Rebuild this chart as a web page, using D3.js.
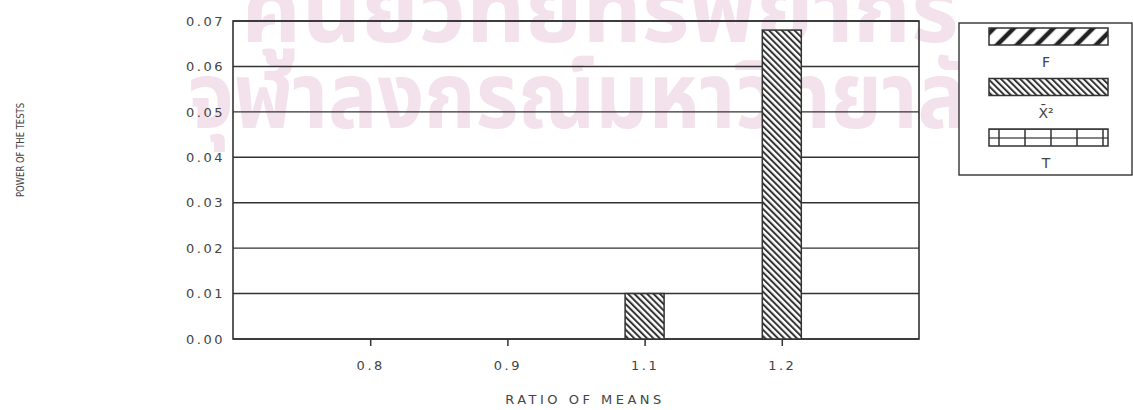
<!DOCTYPE html>
<html>
<head>
<meta charset="utf-8">
<script src="https://cdn.jsdelivr.net/npm/d3@7"></script>
<style>
  body { margin: 0; background: #fff; }
  text { fill: #333; }
</style>
</head>
<body>
<script>
var w = 1133;
var h = 410;

// chart data
var categories = ["0.8", "0.9", "1.1", "1.2"];
var seriesNames = ["F", "X2", "T"];
var fValues = [0, 0, 0, 0];
var chiValues = [0, 0, 0.01, 0.068];
var tValues = [0, 0, 0, 0];
var yTicks = [0, 0.01, 0.02, 0.03, 0.04, 0.05, 0.06, 0.07];

var series = [
    { key: "F", values: fValues, pattern: "url(#pF)", label: "F" },
    { key: "X2", values: chiValues, pattern: "url(#pX)", label: "X\u0304\u00B2" },
    { key: "T", values: tValues, pattern: "url(#pT)", label: "T" }
];

var plot = { left: 233, right: 919, top: 21, bottom: 339 };
var ink = "#333";

var svg = d3.select("body")
            .append("svg")
            .attr("width", w)
            .attr("height", h);

// hatch patterns
var defs = svg.append("defs");

var pF = defs.append("pattern")
    .attr("id", "pF")
    .attr("patternUnits", "userSpaceOnUse")
    .attr("width", 14).attr("height", 14)
    .attr("patternTransform", "rotate(45)");
pF.append("rect").attr("width", 14).attr("height", 14).attr("fill", "#fff");
pF.append("line").attr("x1", 3).attr("y1", 0).attr("x2", 3).attr("y2", 14)
    .attr("stroke", "#222").attr("stroke-width", 4.5);

var pX = defs.append("pattern")
    .attr("id", "pX")
    .attr("patternUnits", "userSpaceOnUse")
    .attr("width", 4.5).attr("height", 4.5)
    .attr("patternTransform", "rotate(-45)");
pX.append("rect").attr("width", 4.5).attr("height", 4.5).attr("fill", "#fff");
pX.append("line").attr("x1", 1).attr("y1", 0).attr("x2", 1).attr("y2", 4.5)
    .attr("stroke", "#333").attr("stroke-width", 2);

var pT = defs.append("pattern")
    .attr("id", "pT")
    .attr("patternUnits", "userSpaceOnUse")
    .attr("x", 994)
    .attr("width", 26).attr("height", 18);
pT.append("rect").attr("width", 26).attr("height", 18).attr("fill", "#fff");
pT.append("line").attr("x1", 0).attr("y1", 0).attr("x2", 26).attr("y2", 0)
    .attr("stroke", ink).attr("stroke-width", 1.5);
pT.append("line").attr("x1", 0).attr("y1", 9).attr("x2", 26).attr("y2", 9)
    .attr("stroke", ink).attr("stroke-width", 1.2);
pT.append("line").attr("x1", 5).attr("y1", 0).attr("x2", 5).attr("y2", 18)
    .attr("stroke", ink).attr("stroke-width", 1.5);

// background watermark
var wm = svg.append("g")
    .style("font-family", "'Noto Sans Thai', 'Noto Sans', 'DejaVu Sans', sans-serif")
    .style("font-size", "92px")
    .style("font-weight", "bold")
    .attr("text-anchor", "middle");
wm.append("text")
  .attr("x", 600).attr("y", 42)
  .style("fill", "#f3e2eb")
  .text("ศูนย์วิทยทรัพยากร");
wm.append("text")
  .attr("x", 603).attr("y", 128)
  .attr("textLength", 830)
  .attr("lengthAdjust", "spacingAndGlyphs")
  .style("fill", "#f3e2eb")
  .text("จุฬาลงกรณ์มหาวิทยาลัย");

// scales
var x0 = d3.scalePoint()
           .domain(categories)
           .range([plot.left, plot.right])
           .padding(1);

var x1 = d3.scaleBand()
           .domain(seriesNames)
           .range([-58.5, 58.5])
           .padding(0);

var yScale = d3.scaleLinear()
               .domain([0, 0.07])
               .range([plot.bottom, plot.top]);

// grid lines
svg.append("g")
   .selectAll("line")
   .data(yTicks)
   .enter()
   .append("line")
   .attr("x1", plot.left)
   .attr("x2", plot.right)
   .attr("y1", function (d) { return yScale(d); })
   .attr("y2", function (d) { return yScale(d); })
   .attr("stroke", ink)
   .attr("stroke-width", 1.4);

// frame
svg.append("rect")
   .attr("x", plot.left)
   .attr("y", plot.top)
   .attr("width", plot.right - plot.left)
   .attr("height", plot.bottom - plot.top)
   .attr("fill", "none")
   .attr("stroke", ink)
   .attr("stroke-width", 1.6);

// bars
var groups = svg.append("g")
   .selectAll("g")
   .data(categories)
   .enter()
   .append("g")
   .attr("transform", function (d) { return "translate(" + x0(d) + ",0)"; });

groups.selectAll("rect")
   .data(function (d, i) {
       return series.map(function (s) { return { key: s.key, value: s.values[i], pattern: s.pattern }; });
   })
   .enter()
   .append("rect")
   .attr("x", function (d) { return x1(d.key); })
   .attr("y", function (d) { return yScale(d.value); })
   .attr("width", x1.bandwidth())
   .attr("height", function (d) { return plot.bottom - yScale(d.value); })
   .attr("fill", function (d) { return d.pattern; })
   .attr("stroke", function (d) { return d.value > 0 ? ink : "none"; })
   .attr("stroke-width", 1.5);

// y axis labels
var yAxis = d3.axisLeft(yScale)
              .tickValues(yTicks)
              .tickFormat(d3.format(".2f"))
              .tickSize(0)
              .tickPadding(8);

var gy = svg.append("g")
   .attr("transform", "translate(" + plot.left + ",0)")
   .call(yAxis);
gy.select(".domain").remove();
gy.selectAll("text")
  .style("font-family", "'DejaVu Sans', sans-serif")
  .style("font-size", "13px")
  .style("letter-spacing", "2.5px")
  .style("fill", "#444");

// x axis
var xAxis = d3.axisBottom(x0)
              .tickSize(7)
              .tickPadding(15);

var gx = svg.append("g")
   .attr("transform", "translate(0," + plot.bottom + ")")
   .call(xAxis);
gx.select(".domain").remove();
gx.selectAll("line").attr("stroke", ink).attr("stroke-width", 1.5);
gx.selectAll("text")
  .style("font-family", "'DejaVu Sans', sans-serif")
  .style("font-size", "13px")
  .style("letter-spacing", "2.5px")
  .style("fill", "#444");

// axis titles
svg.append("text")
   .attr("x", 585)
   .attr("y", 404)
   .attr("text-anchor", "middle")
   .style("font-family", "'DejaVu Sans', sans-serif")
   .style("font-size", "13px")
   .style("letter-spacing", "3.5px")
   .style("fill", "#444")
   .text("RATIO OF MEANS");

svg.append("text")
   .attr("transform", "translate(24,150) rotate(-90)")
   .attr("text-anchor", "middle")
   .attr("textLength", 94)
   .attr("lengthAdjust", "spacingAndGlyphs")
   .style("font-family", "'DejaVu Sans', sans-serif")
   .style("font-size", "11px")
   .style("fill", "#444")
   .text("POWER OF THE TESTS");

// legend
var legend = svg.append("g");
legend.append("rect")
      .attr("x", 959).attr("y", 23)
      .attr("width", 173).attr("height", 152)
      .attr("fill", "#fff")
      .attr("stroke", ink)
      .attr("stroke-width", 1.4);

var legendY = d3.scalePoint()
                .domain(seriesNames)
                .range([28, 129]);

var items = legend.selectAll("g.item")
      .data(series)
      .enter()
      .append("g")
      .attr("class", "item")
      .attr("transform", function (d) { return "translate(0," + legendY(d.key) + ")"; });

items.append("rect")
     .attr("x", 989).attr("y", 0)
     .attr("width", 119).attr("height", 17)
     .attr("fill", function (d) { return d.pattern; })
     .attr("stroke", ink)
     .attr("stroke-width", 1.5);

items.append("text")
     .attr("x", 1046)
     .attr("y", 39)
     .attr("text-anchor", "middle")
     .style("font-family", "'DejaVu Sans', sans-serif")
     .style("font-size", "14px")
     .style("fill", "#444")
     .text(function (d) { return d.label; });
</script>
</body>
</html>
